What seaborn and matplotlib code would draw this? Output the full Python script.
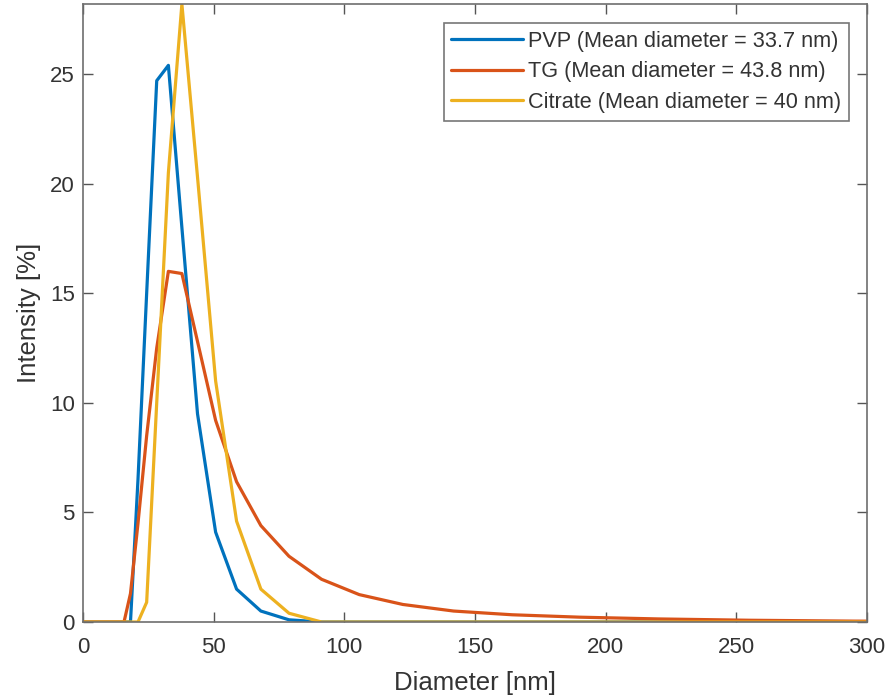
import numpy as np
import pandas as pd
import matplotlib
matplotlib.use("Agg")
import matplotlib.pyplot as plt
import seaborn as sns

# Size bins (nm)
diameter = [0.4, 0.4632, 0.5365, 0.6213, 0.7195, 0.8332, 0.9649, 1.117, 1.294, 1.499,
            1.736, 2.010, 2.328, 2.696, 3.122, 3.615, 4.187, 4.849, 5.615, 6.503,
            7.531, 8.721, 10.10, 11.70, 13.54, 15.69, 18.17, 21.04, 24.36, 28.21,
            32.67, 37.84, 43.82, 50.75, 58.77, 68.06, 78.82, 91.28, 105.7, 122.4,
            141.8, 164.2, 190.1, 220.2, 255.0, 295.3, 342.0]

pvp = [0, 0, 0, 0, 0, 0, 0, 0, 0, 0,
       0, 0, 0, 0, 0, 0, 0, 0, 0, 0,
       0, 0, 0, 0, 0, 0, 0, 6.5, 15.0, 24.7,
       25.4, 18.0, 9.5, 4.1, 1.5, 0.5, 0.1, 0, 0, 0,
       0, 0, 0, 0, 0, 0, 0]

tg = [0, 0, 0, 0, 0, 0, 0, 0, 0, 0,
      0, 0, 0, 0, 0, 0, 0, 0, 0, 0,
      0, 0, 0, 0, 0, 0, 1.3, 4.5, 8.5, 12.5,
      16.0, 15.9, 12.8, 9.2, 6.4, 4.4, 3.0, 1.95, 1.25, 0.8,
      0.5, 0.33, 0.22, 0.14, 0.08, 0.04, 0.02]

citrate = [0, 0, 0, 0, 0, 0, 0, 0, 0, 0,
           0, 0, 0, 0, 0, 0, 0, 0, 0, 0,
           0, 0, 0, 0, 0, 0, 0, 0, 0.9, 10.0,
           20.5, 28.2, 20.3, 11.0, 4.6, 1.5, 0.4, 0, 0, 0,
           0, 0, 0, 0, 0, 0, 0]

labels = ["PVP (Mean diameter = 33.7 nm)",
          "TG (Mean diameter = 43.8 nm)",
          "Citrate (Mean diameter = 40 nm)"]
colors = ["#0072BD", "#D95319", "#EDB120"]

xticks = [0, 50, 100, 150, 200, 250, 300]
yticks = [0, 5, 10, 15, 20, 25]

frames = []
for lab, vals in zip(labels, [pvp, tg, citrate]):
    frames.append(pd.DataFrame({"Diameter": diameter, "Intensity": vals, "Sample": lab}))
df = pd.concat(frames, ignore_index=True)

sns.set_theme(style="white")
plt.rcParams["font.family"] = ["Liberation Sans", "DejaVu Sans"]

fig = plt.figure(figsize=(8.91, 7.0), dpi=100)
ax = fig.add_axes([83 / 891, 78 / 700, 784 / 891, 618 / 700])

sns.lineplot(data=df, x="Diameter", y="Intensity", hue="Sample",
             palette=dict(zip(labels, colors)), hue_order=labels,
             linewidth=2.3, sort=False, ax=ax, legend=True)

ax.set_xlim(0, 300)
ax.set_ylim(0, 28.2)
ax.set_xticks(xticks)
ax.set_yticks(yticks)
ax.set_xlabel("Diameter [nm]", fontsize=18.5, color="#333333", labelpad=9)
ax.set_ylabel("Intensity [%]", fontsize=18.5, color="#333333", labelpad=6)
ax.tick_params(axis="both", which="both", direction="in", length=7, width=1,
               color="#555555", labelsize=16, labelcolor="#333333",
               top=True, right=True, bottom=True, left=True, pad=6)
ax.tick_params(axis="x", pad=11)
for s in ax.spines.values():
    s.set_color("#6e6e6e")
    s.set_linewidth(1.2)

leg = ax.legend(loc="upper right", bbox_to_anchor=((849 - 83) / 784, (622 - 23) / 618),
                borderaxespad=0, fontsize=15.6, frameon=True, fancybox=False,
                handlelength=3.3, handletextpad=0.25, labelspacing=0.45,
                borderpad=0.35)
leg.get_frame().set_edgecolor("#555555")
leg.get_frame().set_linewidth(1.2)
for t in leg.get_texts():
    t.set_color("#333333")
for h in leg.get_lines():
    h.set_linewidth(2.3)

fig.savefig("out.png", dpi=100)
